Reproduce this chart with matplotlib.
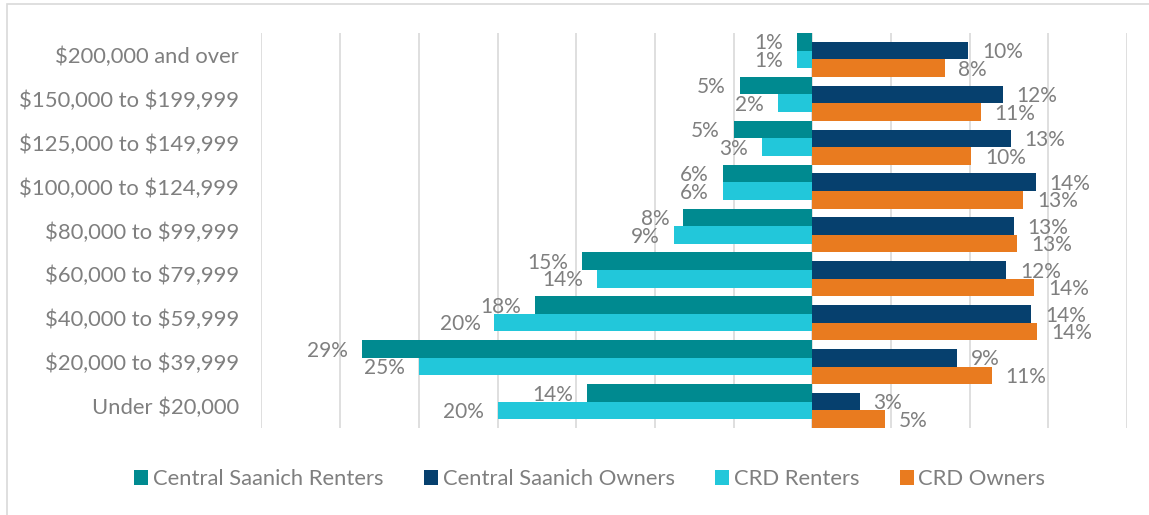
import matplotlib
matplotlib.use("Agg")
from matplotlib import pyplot as plt
from matplotlib.patches import Rectangle
import numpy as np

# ------------------- Chart data ----------------------

INCOME_BANDS = [
    "$200,000 and over",
    "$150,000 to $199,999",
    "$125,000 to $149,999",
    "$100,000 to $124,999",
    "$80,000 to $99,999",
    "$60,000 to $79,999",
    "$40,000 to $59,999",
    "$20,000 to $39,999",
    "Under $20,000",
]
CS_RENTERS = [1.0, 4.6, 5.0, 5.7, 8.2, 14.6, 17.6, 28.6, 14.3]
CRD_RENTERS = [1.0, 2.2, 3.2, 5.7, 8.8, 13.7, 20.2, 25.0, 20.0]
CS_OWNERS = [9.9, 12.1, 12.6, 14.2, 12.8, 12.3, 13.9, 9.2, 3.0]
CRD_OWNERS = [8.4, 10.7, 10.1, 13.4, 13.0, 14.1, 14.3, 11.4, 4.6]

# ------------------- Styling ----------------------

TEXT_GREY = "#7f7f7f"
GRID_GREY = "#d9d9d9"
FONT_SIZE = 15.8  # tick labels + legend
LABEL_SIZE = 15.0  # data labels
COLORS = {
    "Central Saanich Renters": "#008a90",
    "Central Saanich Owners": "#06406e",
    "CRD Renters": "#22c7da",
    "CRD Owners": "#e97b1f",
}

plt.rcParams["font.family"] = ["Lato", "DejaVu Sans"]
plt.rcParams["text.parse_math"] = False  # dollar signs are literal

fig = plt.figure(figsize=(11.49, 5.15), dpi=100)
ax = fig.add_axes([261.4 / 1149, 1 - 428 / 515, 865.7 / 1149, 395 / 515])

y = np.arange(len(INCOME_BANDS))
h = 0.4

# renters sit a little higher than owners in each band (secondary axis in the original)
series = [
    ("Central Saanich Renters", -np.array(CS_RENTERS), y - 0.3),
    ("CRD Renters", -np.array(CRD_RENTERS), y + 0.1),
    ("Central Saanich Owners", np.array(CS_OWNERS), y - 0.1),
    ("CRD Owners", np.array(CRD_OWNERS), y + 0.3),
]

bars = {}
for name, vals, pos in series:
    bc = ax.barh(pos, vals, height=h, color=COLORS[name], label=name, zorder=2)
    bars[name] = bc
    anns = ax.bar_label(
        bc,
        labels=[f"{abs(v):.0f}%" for v in vals],
        padding=10,
        color=TEXT_GREY,
        fontsize=LABEL_SIZE,
    )
    # labels sit a touch below the bar centre in the original
    for a in anns:
        dx, dy = a.xyann
        a.xyann = (dx, dy - 1.2)

ax.set_xlim(-35, 20)
ax.set_ylim(len(INCOME_BANDS) - 0.5, -0.5)
ax.set_xticks(np.arange(-35, 21, 5))
ax.xaxis.grid(True, color=GRID_GREY, linewidth=1.2)
ax.set_axisbelow(True)
ax.tick_params(axis="x", length=0, labelbottom=False)

ax.set_yticks(y)
ax.set_yticklabels(INCOME_BANDS)
ax.tick_params(axis="y", length=0, pad=16, labelcolor=TEXT_GREY, labelsize=FONT_SIZE)

for s in ax.spines.values():
    s.set_visible(False)

order = ["Central Saanich Renters", "Central Saanich Owners", "CRD Renters", "CRD Owners"]
fs_px = FONT_SIZE * 100 / 72
leg = fig.legend(
    [bars[n] for n in order],
    order,
    loc="center",
    bbox_to_anchor=(590 / 1149, 1 - 479 / 515),
    ncol=4,
    frameon=False,
    fontsize=FONT_SIZE,
    handlelength=14 / fs_px,
    handleheight=14 / fs_px,
    handletextpad=5 / fs_px,
    columnspacing=40 / fs_px,
)
for t in leg.get_texts():
    t.set_color(TEXT_GREY)

# light frame round the chart, as in the original export
fig.patches.append(
    Rectangle(
        (7 / 1149, -0.05),
        1.1,
        1.05 - 4 / 515,
        transform=fig.transFigure,
        fill=False,
        edgecolor=GRID_GREY,
        linewidth=1.2,
    )
)

fig.savefig("out.png", dpi=100)
